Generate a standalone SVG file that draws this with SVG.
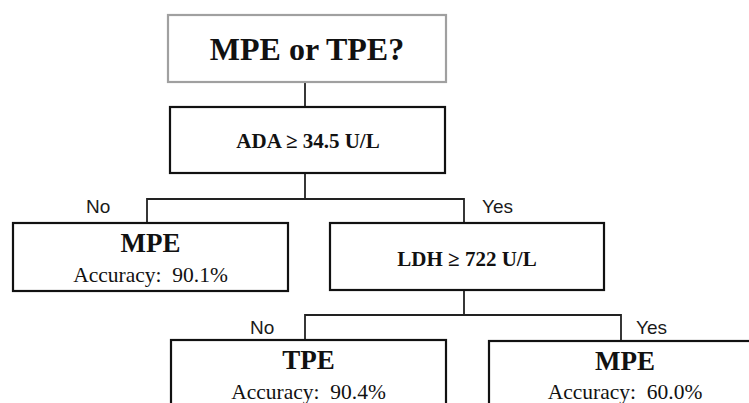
<svg xmlns="http://www.w3.org/2000/svg" width="749" height="403" viewBox="0 0 749 403">
<style>
.box{fill:#fff;stroke:#111;stroke-width:2.2}
.top{fill:#fff;stroke:#a0a0a0;stroke-width:2.2}
.t{font-family:"Liberation Serif","Times New Roman",serif;fill:#111;text-anchor:middle}
.b{font-weight:bold}
.lbl{font-family:"Liberation Sans",Arial,sans-serif;font-size:19px;fill:#1a1a1a}
.c{fill:none;stroke:#222;stroke-width:1.8}
</style>
<rect width="749" height="403" fill="#fff"/>
<g id="connectors">
<path class="c" d="M305 82V107"/>
<path class="c" d="M305 173V199M147 223V199H464V223"/>
<path class="c" d="M464 290V315M305 340V315H621V341"/>
</g>
<g id="labels">
<text class="lbl" x="86" y="213">No</text>
<text class="lbl" x="482" y="213">Yes</text>
<text class="lbl" x="250" y="334">No</text>
<text class="lbl" x="636" y="334">Yes</text>
</g>
<g id="n-root">
<rect class="top" x="168" y="15" width="278" height="67"/>
<text class="t b" x="307" y="60" font-size="32">MPE or TPE?</text>
</g>
<g id="n-ada">
<rect class="box" x="170" y="107" width="275" height="66"/>
<text class="t b" x="308" y="148" font-size="21">ADA ≥ 34.5 U/L</text>
</g>
<g id="n-mpe1">
<rect class="box" x="13" y="223" width="275" height="68"/>
<text class="t b" x="150.5" y="252" font-size="27">MPE</text>
<text class="t" x="150.5" y="282" font-size="21.5" xml:space="preserve">Accuracy:  90.1%</text>
</g>
<g id="n-ldh">
<rect class="box" x="330" y="223" width="274" height="67"/>
<text class="t b" x="467" y="266" font-size="21">LDH ≥ 722 U/L</text>
</g>
<g id="n-tpe">
<rect class="box" x="171" y="340" width="275" height="80"/>
<text class="t b" x="308.5" y="369" font-size="27">TPE</text>
<text class="t" x="308.5" y="399" font-size="21.5" xml:space="preserve">Accuracy:  90.4%</text>
</g>
<g id="n-mpe2">
<rect class="box" x="489" y="341" width="274" height="80"/>
<text class="t b" x="625" y="370" font-size="27">MPE</text>
<text class="t" x="625" y="399" font-size="21.5" xml:space="preserve">Accuracy:  60.0%</text>
</g>
</svg>
